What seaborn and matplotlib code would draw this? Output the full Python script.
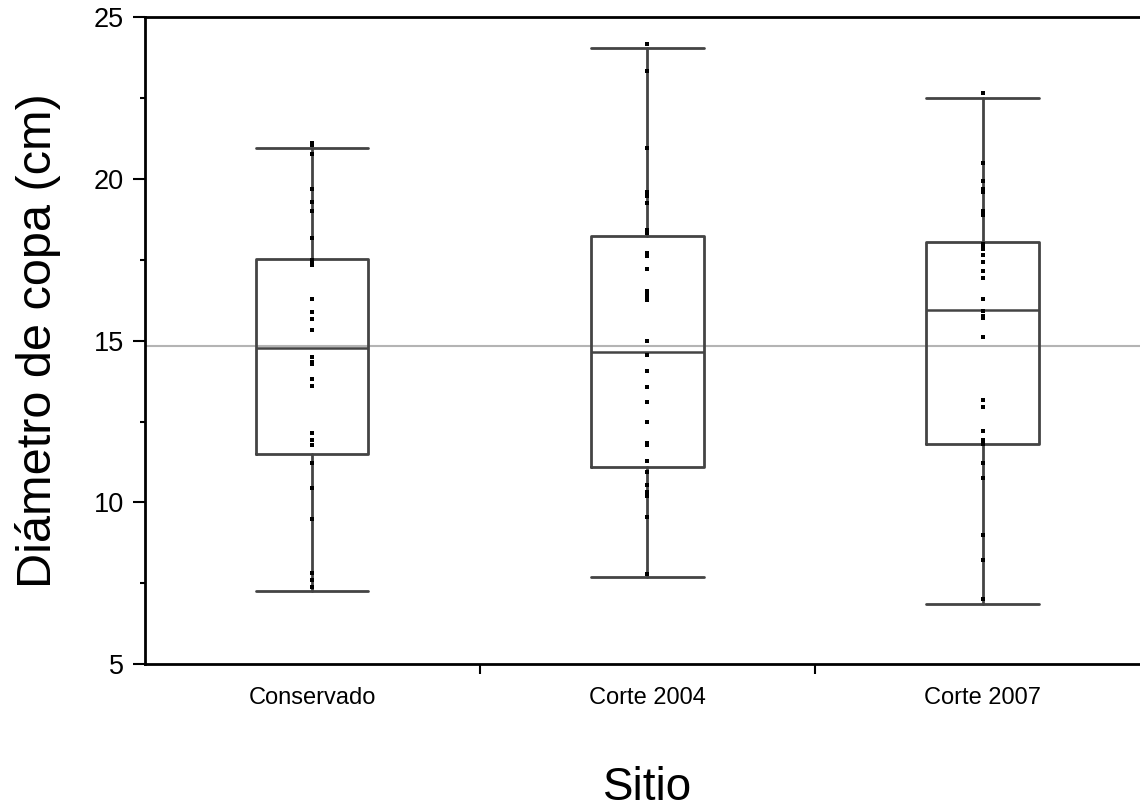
import numpy as np
import pandas as pd
import seaborn as sns
import matplotlib.pyplot as plt
from matplotlib.ticker import MultipleLocator, FixedLocator

# Sites and individual crown diameters (cm)
sitios = ["Conservado", "Corte 2004", "Corte 2007"]

conservado = [21.11, 21.04, 20.76, 19.70, 19.29, 19.01, 18.18, 17.49, 17.42, 17.33,
              16.30, 15.89, 15.66, 15.32, 14.50, 14.33, 14.27, 13.80, 13.59, 12.15,
              11.92, 11.77, 11.22, 10.45, 9.48, 7.82, 7.60, 7.39]
corte_2004 = [24.17, 23.33, 20.96, 19.58, 19.48, 19.24, 18.42, 18.34, 17.70, 17.61,
              17.21, 16.53, 16.44, 16.35, 16.25, 14.98, 14.57, 14.07, 13.58, 13.10,
              12.47, 11.85, 11.77, 11.28, 10.94, 10.53, 10.33, 10.19, 9.55, 7.80]
corte_2007 = [22.64, 20.48, 19.93, 19.70, 19.58, 19.00, 18.88, 18.00, 17.93, 17.83,
              17.64, 17.42, 17.14, 16.94, 16.30, 15.91, 15.77, 15.69, 15.12, 13.16,
              12.95, 12.20, 11.92, 11.79, 11.22, 10.74, 8.99, 8.23, 7.00]

# Box summary as drawn in the original
box_whishi = [20.95, 24.04, 22.50]
box_q3 = [17.52, 18.23, 18.05]
box_med = [14.77, 14.64, 15.94]
box_q1 = [11.49, 11.09, 11.80]
box_whislo = [7.26, 7.69, 6.85]

media_general = 14.83

df = pd.DataFrame({
    "sitio": ["Conservado"] * len(conservado) + ["Corte 2004"] * len(corte_2004)
             + ["Corte 2007"] * len(corte_2007),
    "diam": conservado + corte_2004 + corte_2007,
})

sns.set_style("ticks")
plt.rcParams["font.family"] = ["Liberation Sans", "DejaVu Sans"]
for key in ["text.color", "axes.labelcolor", "xtick.color", "ytick.color"]:
    plt.rcParams[key] = "black"

fig = plt.figure(figsize=(11.4, 8.1), dpi=100)
ax = fig.add_axes([0.127, 0.180, 0.873, 0.799])

# grand mean reference line
ax.axhline(media_general, color="#b4b4b4", lw=1.5, zorder=0)

stats = [
    {"whishi": hi, "q3": q3, "med": m, "q1": q1, "whislo": lo, "fliers": []}
    for hi, q3, m, q1, lo in zip(box_whishi, box_q3, box_med, box_q1, box_whislo)
]
line_kw = dict(color="#444444", lw=2)
ax.bxp(stats, positions=range(len(sitios)), widths=0.335, capwidths=0.335,
       manage_ticks=False, boxprops=line_kw, whiskerprops=line_kw,
       capprops=line_kw, medianprops=dict(color="#444444", lw=1.8), zorder=2)

sns.stripplot(data=df, x="sitio", y="diam", order=sitios, jitter=False,
              color="black", marker="s", size=3.4, linewidth=0, ax=ax, zorder=3)

ax.set_xlim(-0.5, 2.47)
ax.set_ylim(5, 25)

ax.yaxis.set_major_locator(MultipleLocator(5))
ax.yaxis.set_minor_locator(MultipleLocator(2.5))
ax.set_xticks(range(len(sitios)))
ax.set_xticklabels(sitios)
ax.xaxis.set_minor_locator(FixedLocator([0.5, 1.5]))

ax.tick_params(axis="y", which="major", length=8.5, width=1.5, labelsize=19.5, pad=6.5)
ax.tick_params(axis="y", which="minor", length=3.8, width=1.5)
ax.tick_params(axis="x", which="major", length=0, labelsize=17, pad=16.5)
ax.tick_params(axis="x", which="minor", length=7, width=1.5)

for side in ["left", "bottom", "top"]:
    ax.spines[side].set_linewidth(2)
    ax.spines[side].set_color("black")
ax.spines["right"].set_visible(False)

ax.set_xlabel("")
ax.set_ylabel("Diámetro de copa (cm)", fontsize=35)
ax.yaxis.set_label_coords(-0.084, 0.5)

# axis title placed by baseline so it sits near the bottom edge like the original
fig.text(0.127 + 0.873 * (1.5 / 2.97), 10 / 810, "Sitio", fontsize=33,
         ha="center", va="baseline")

fig.savefig("out.png", dpi=100)
